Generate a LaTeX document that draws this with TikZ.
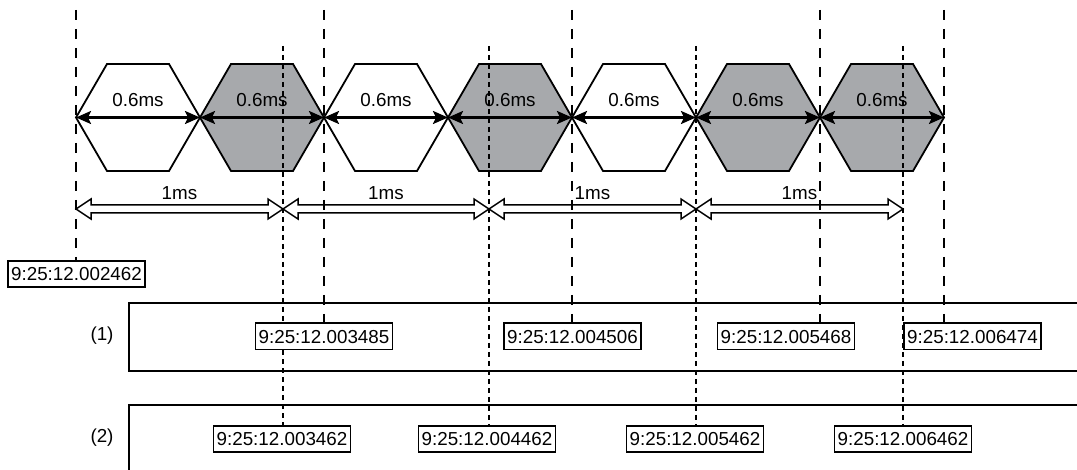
\documentclass[tikz,border=0pt]{standalone}
\usepackage{fontspec}
\setmainfont{Liberation Sans}
\usetikzlibrary{arrows.meta,calc}
\definecolor{hexgray}{HTML}{A7A9AC}

\tikzset{
  hexwhite/.style={draw=black, line width=1.8pt, fill=white, line join=miter},
  hexgrey/.style={draw=black, line width=1.8pt, fill=hexgray, line join=miter},
  longdash/.style={line width=1.8pt, dash pattern=on 10pt off 9pt},
  finedash/.style={line width=1.5pt, dash pattern=on 5pt off 4pt},
  bigfont/.style={font=\fontsize{18.8}{22}\selectfont},
  stamp/.style={bigfont, draw, line width=1.6pt, fill=white, inner xsep=3.3pt,
                inner ysep=6.5pt, text height=13.4pt, text depth=0pt},
  txt/.style={bigfont, inner sep=0pt},
  span/.style={line width=2.3pt,
    {Stealth[length=15pt,width=13pt,inset=3pt]}-{Stealth[length=15pt,width=13pt,inset=3pt]}},
  hollow/.style={draw=black, line width=1.5pt, line join=miter},
  frame/.style={line width=2.5pt}
}

% open double-headed block arrow between two points on one horizontal
\newcommand\hollowarrow[2]{%
  \draw[hollow] (#1) -- ($(#1)+(15,-10)$) -- ($(#1)+(15,-4)$)
    -- ($(#2)+(-15,-4)$) -- ($(#2)+(-15,-10)$) -- (#2)
    -- ($(#2)+(-15,10)$) -- ($(#2)+(-15,4)$)
    -- ($(#1)+(15,4)$) -- ($(#1)+(15,10)$) -- cycle;}

\begin{document}
\begin{tikzpicture}[x=1pt, y=-1pt]
\path[use as bounding box] (0,0) rectangle (1077,470);
\clip (0,0) rectangle (1077,470);

% hexagon row: one slot every 124 units
\foreach \k/\st in {0/hexwhite,1/hexgrey,2/hexwhite,3/hexgrey,4/hexwhite,5/hexgrey,6/hexgrey}{
  \draw[\st] ({76+124*\k},117.5) -- ++(31,-53.5) -- ++(62,0) -- ++(31,53.5)
    -- ++(-31,53.5) -- ++(-62,0) -- cycle;
}
\foreach \k in {0,...,7}{ \coordinate (tip\k) at ({76+124*\k},117.5); }

% 1 ms marks
\coordinate (ms0) at (76,209);
\coordinate (ms1) at (283,209);
\coordinate (ms2) at (489,209);
\coordinate (ms3) at (696,209);
\coordinate (ms4) at (903,209);
\hollowarrow{ms0}{ms1}
\hollowarrow{ms1}{ms2}
\hollowarrow{ms2}{ms3}
\hollowarrow{ms3}{ms4}
\foreach \a/\b in {0/1,1/2,2/3,3/4}{
  \node[txt] (one\a) at ($(ms\a)!0.5!(ms\b)+(0,-16)$) {1ms};
}

% frames (1) and (2)
\draw[frame] (1090,303) -- (129,303) -- (129,371) -- (1090,371);
\draw[frame] (1090,405) -- (129,405) -- (129,480);
\node[txt] (lab1) at (102,336) {(1)};
\node[txt] (lab2) at (102,437.5) {(2)};

% timestamps
\node[stamp] (t0) at (76.5,274) {9:25:12.002462};
\node[stamp] (r1a) at (324,336.5) {9:25:12.003485};
\node[stamp] (r1b) at (572.5,336.5) {9:25:12.004506};
\node[stamp] (r1c) at (786,336.5) {9:25:12.005468};
\node[stamp] (r1d) at (972.5,336.5) {9:25:12.006474};
\node[stamp] (r2a) at (282,439) {9:25:12.003462};
\node[stamp] (r2b) at (487,439) {9:25:12.004462};
\node[stamp] (r2c) at (695,439) {9:25:12.005462};
\node[stamp] (r2d) at (903,439) {9:25:12.006462};

% long-dashed slot boundaries
\coordinate (L0) at (76,10);
\coordinate (L1) at (324,10);
\coordinate (L2) at (572,10);
\coordinate (L3) at (820,10);
\coordinate (L4) at (944,10);
\draw[longdash] (L0) -- (L0 |- t0.north);
\draw[longdash] (L1) -- (L1 |- r1a.north);
\draw[longdash] (L2) -- (L2 |- r1b.north);
\draw[longdash] (L3) -- (L3 |- r1c.north);
\draw[longdash] (L4) -- (L4 |- r1d.north);

% fine-dashed 1 ms boundaries (hidden where a row-1 stamp covers them)
\coordinate (F1) at (283,46);
\coordinate (F2) at (489,46);
\coordinate (F3) at (696,46);
\coordinate (F4) at (903,46);
\draw[finedash] (F1) -- (F1 |- r1a.north) (F1 |- r1a.south) -- (F1 |- r2a.north);
\draw[finedash] (F2) -- (F2 |- r2b.north);
\draw[finedash] (F3) -- (F3 |- r2c.north);
\draw[finedash] (F4) -- (F4 |- r2d.north);

% 0.6 ms spans
\foreach \a/\b in {0/1,1/2,2/3,3/4,4/5,5/6,6/7}{
  \draw[span] (tip\a) -- (tip\b);
  \node[txt] (six\a) at ($(tip\a)!0.5!(tip\b)+(0,-17.5)$) {0.6ms};
}
\end{tikzpicture}
\end{document}
